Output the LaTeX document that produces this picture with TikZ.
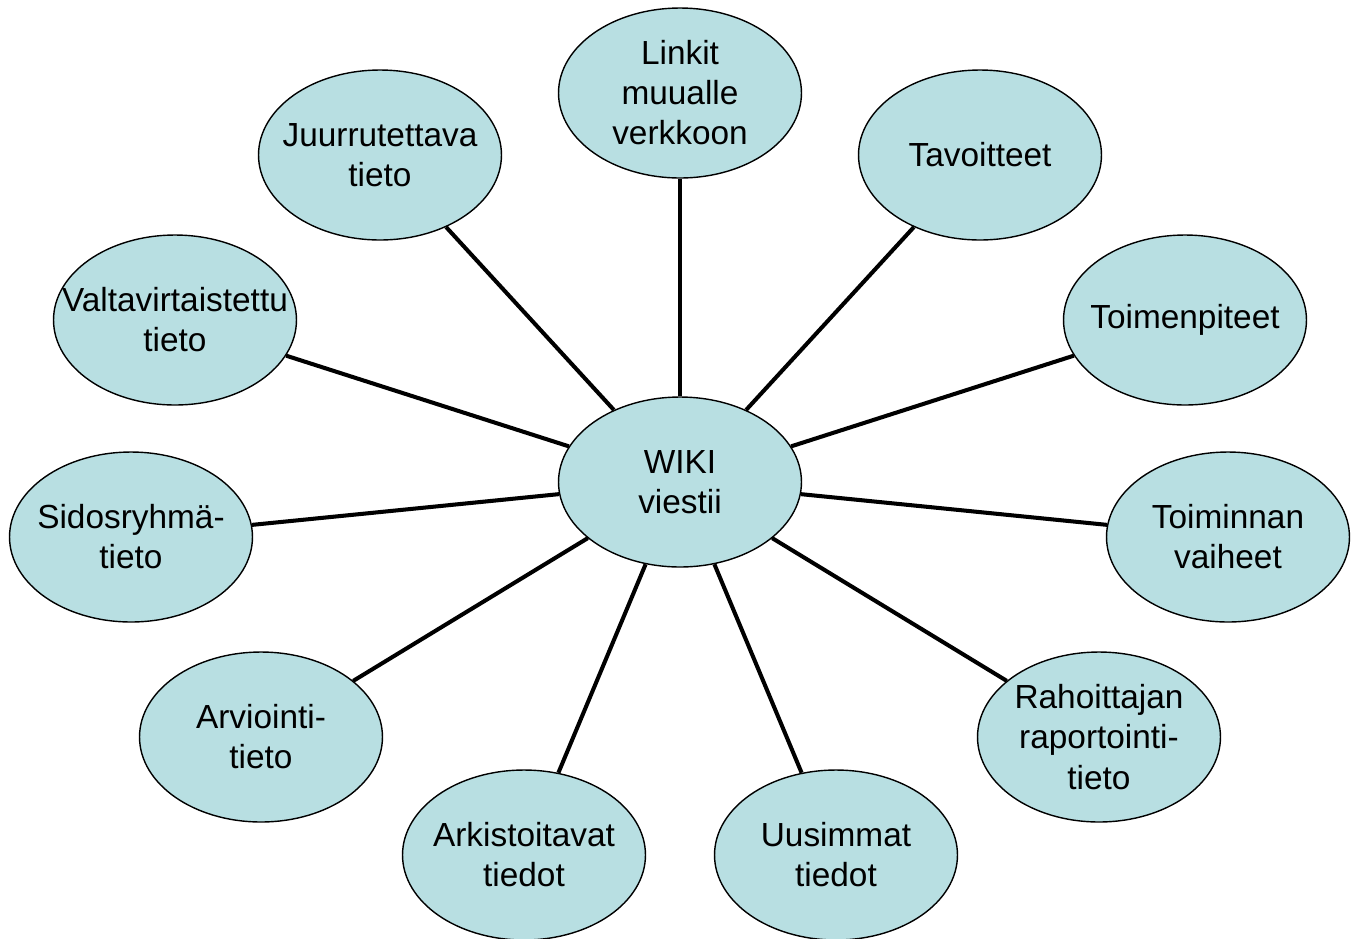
\documentclass[tikz,border=0pt]{standalone}
\usepackage{fontspec}
\setmainfont{Liberation Sans}
\usetikzlibrary{shapes.geometric}
\definecolor{bubble}{RGB}{184,223,226}
\begin{document}
\begin{tikzpicture}[x=0.02cm, y=-0.02cm,
  topic/.style={ellipse, draw, fill=bubble, line width=0.8pt, minimum width=4.86cm, minimum height=3.4cm, inner xsep=-1cm, inner ysep=0pt, align=center, font=\fontsize{19}{22.8}\selectfont},
  spoke/.style={line width=2.3pt}]
\useasboundingbox (0,0) rectangle (1360,938);
\node[topic] (wiki) at (680,482){WIKI\\viestii};
\node[topic] (tid0) at (680,93){Linkit\\muualle\\verkkoon};
\node[topic] (tid1) at (980,155){Tavoitteet};
\node[topic] (tid2) at (1185,320){Toimenpiteet};
\node[topic] (tid3) at (1228,537){Toiminnan\\vaiheet};
\node[topic] (tid4) at (1099,737){Rahoittajan\\raportointi-\\tieto};
\node[topic] (tid5) at (836,855){Uusimmat\\tiedot};
\node[topic] (tid6) at (524,855){Arkistoitavat\\tiedot};
\node[topic] (tid7) at (261,737){Arviointi-\\tieto};
\node[topic] (tid8) at (131,537){Sidosryhmä-\\tieto};
\node[topic] (tid9) at (175,320){Valtavirtaistettu\\tieto};
\node[topic] (tid10) at (380,155){Juurrutettava\\tieto};
\draw[spoke](wiki) -- (tid0);
\draw[spoke](wiki) -- (tid1);
\draw[spoke](wiki) -- (tid2);
\draw[spoke](wiki) -- (tid3);
\draw[spoke](wiki) -- (tid4);
\draw[spoke](wiki) -- (tid5);
\draw[spoke](wiki) -- (tid6);
\draw[spoke](wiki) -- (tid7);
\draw[spoke](wiki) -- (tid8);
\draw[spoke](wiki) -- (tid9);
\draw[spoke](wiki) -- (tid10);
\end{tikzpicture}
\end{document}
